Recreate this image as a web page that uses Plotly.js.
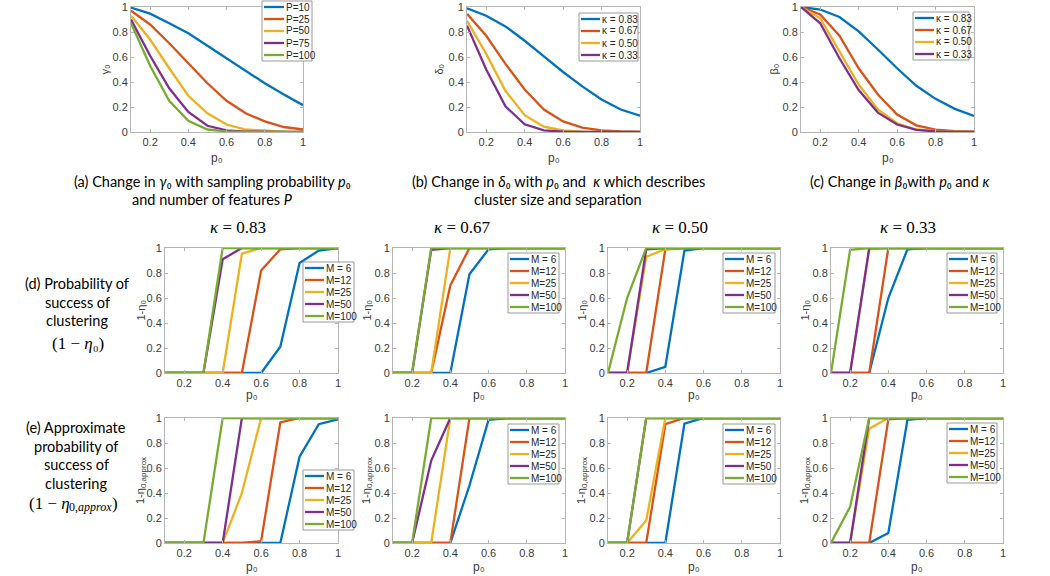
<!DOCTYPE html>
<html><head><meta charset="utf-8">
<script src="https://cdn.plot.ly/plotly-3.0.1.min.js"></script>
<style>html,body{margin:0;padding:0;background:#fff}#chart{width:1050px;height:576px}</style>
</head><body><div id="chart"></div>
<script>
const W = 1050, H = 576;
const p0 = [0.1, 0.2, 0.3, 0.4, 0.5, 0.6, 0.7, 0.8, 0.9, 1.0];
const colors = ['#0072BD', '#D95319', '#EDB120', '#7E2F8E', '#77AC30'];
const namesP = ['P=10', 'P=25', 'P=50', 'P=75', 'P=100'];
const namesK = ['\u03BA = 0.83', '\u03BA = 0.67', '\u03BA = 0.50', '\u03BA = 0.33'];
const namesM = ['M = 6', 'M=12', 'M=25', 'M=50', 'M=100'];
const kappaTitles = ['0.83', '0.67', '0.50', '0.33'];
const xTickVals = [0.2, 0.4, 0.6, 0.8, 1];
const xTickText = ['0.2', '0.4', '0.6', '0.8', '1'];
const yTickVals = [0, 0.2, 0.4, 0.6, 0.8, 1];
const yTickText = ['0', '0.2', '0.4', '0.6', '0.8', '1'];

// (a) gamma_0 vs p0 for P
const gamma_P10  = [0.995, 0.947, 0.87, 0.79, 0.69, 0.59, 0.49, 0.39, 0.30, 0.215];
const gamma_P25  = [0.97, 0.86, 0.71, 0.55, 0.39, 0.25, 0.15, 0.085, 0.04, 0.02];
const gamma_P50  = [0.93, 0.74, 0.51, 0.29, 0.15, 0.06, 0.02, 0.008, 0.002, 0.0];
const gamma_P75  = [0.90, 0.61, 0.35, 0.16, 0.05, 0.013, 0.003, 0.0, 0.0, 0.0];
const gamma_P100 = [0.87, 0.53, 0.25, 0.09, 0.02, 0.005, 0.0, 0.0, 0.0, 0.0];
// (b) delta_0 vs p0 for kappa
const delta_k83 = [0.99, 0.93, 0.845, 0.73, 0.605, 0.48, 0.365, 0.26, 0.18, 0.13];
const delta_k67 = [0.945, 0.77, 0.545, 0.34, 0.18, 0.085, 0.035, 0.013, 0.004, 0.001];
const delta_k50 = [0.89, 0.625, 0.33, 0.135, 0.043, 0.012, 0.003, 0.0, 0.0, 0.0];
const delta_k33 = [0.85, 0.50, 0.205, 0.062, 0.013, 0.003, 0.0, 0.0, 0.0, 0.0];
// (c) beta_0 vs p0 for kappa
const beta_k83 = [1.0, 0.98, 0.92, 0.805, 0.66, 0.51, 0.37, 0.265, 0.185, 0.128];
const beta_k67 = [1.0, 0.94, 0.77, 0.51, 0.30, 0.14, 0.053, 0.019, 0.006, 0.002];
const beta_k50 = [1.0, 0.91, 0.645, 0.38, 0.18, 0.07, 0.02, 0.006, 0.002, 0.0];
const beta_k33 = [1.0, 0.87, 0.59, 0.335, 0.155, 0.06, 0.017, 0.005, 0.001, 0.0];

// (d) 1 - eta_0, rows: M=6, 12, 25, 50, 100
const eta_k83 = [
  [0, 0, 0, 0, 0, 0, 0.21, 0.88, 0.98, 1],
  [0, 0, 0, 0, 0, 0.82, 0.99, 1, 1, 1],
  [0, 0, 0, 0, 0.955, 1, 1, 1, 1, 1],
  [0, 0, 0, 0.91, 1, 1, 1, 1, 1, 1],
  [0, 0, 0, 1, 1, 1, 1, 1, 1, 1]];
const eta_k67 = [
  [0, 0, 0, 0, 0.79, 0.99, 1, 1, 1, 1],
  [0, 0, 0, 0.70, 1, 1, 1, 1, 1, 1],
  [0, 0, 0, 1, 1, 1, 1, 1, 1, 1],
  [0, 0, 0.985, 1, 1, 1, 1, 1, 1, 1],
  [0, 0, 1, 1, 1, 1, 1, 1, 1, 1]];
const eta_k50 = [
  [0, 0, 0, 0.05, 0.98, 1, 1, 1, 1, 1],
  [0, 0, 0, 0.99, 1, 1, 1, 1, 1, 1],
  [0, 0, 0.93, 0.99, 1, 1, 1, 1, 1, 1],
  [0, 0, 0.99, 1, 1, 1, 1, 1, 1, 1],
  [0, 0.6, 1, 1, 1, 1, 1, 1, 1, 1]];
const eta_k33 = [
  [0, 0, 0, 0.60, 0.99, 1, 1, 1, 1, 1],
  [0, 0, 0, 1, 1, 1, 1, 1, 1, 1],
  [0, 0, 0.99, 1, 1, 1, 1, 1, 1, 1],
  [0, 0, 1, 1, 1, 1, 1, 1, 1, 1],
  [0, 0.985, 1, 1, 1, 1, 1, 1, 1, 1]];
// (e) 1 - eta_0,approx
const etaApx_k83 = [
  [0, 0, 0, 0, 0, 0, 0, 0.69, 0.95, 0.99],
  [0, 0, 0, 0, 0, 0.015, 0.965, 1, 1, 1],
  [0, 0, 0, 0, 0.40, 1, 1, 1, 1, 1],
  [0, 0, 0, 0, 1, 1, 1, 1, 1, 1],
  [0, 0, 0, 1, 1, 1, 1, 1, 1, 1]];
const etaApx_k67 = [
  [0, 0, 0, 0, 0.46, 0.985, 1, 1, 1, 1],
  [0, 0, 0, 0, 1, 1, 1, 1, 1, 1],
  [0, 0, 0, 1, 1, 1, 1, 1, 1, 1],
  [0, 0, 0.66, 1, 1, 1, 1, 1, 1, 1],
  [0, 0, 1, 1, 1, 1, 1, 1, 1, 1]];
const etaApx_k50 = [
  [0, 0, 0, 0, 0.955, 1, 1, 1, 1, 1],
  [0, 0, 0, 0.95, 1, 1, 1, 1, 1, 1],
  [0, 0, 0.18, 1, 1, 1, 1, 1, 1, 1],
  [0, 0, 1, 1, 1, 1, 1, 1, 1, 1],
  [0, 0, 1, 1, 1, 1, 1, 1, 1, 1]];
const etaApx_k33 = [
  [0, 0, 0, 0.08, 0.985, 1, 1, 1, 1, 1],
  [0, 0, 0, 0.99, 1, 1, 1, 1, 1, 1],
  [0, 0, 0.915, 1, 1, 1, 1, 1, 1, 1],
  [0, 0, 1, 1, 1, 1, 1, 1, 1, 1],
  [0, 0.29, 1, 1, 1, 1, 1, 1, 1, 1]];

// ---------- layout helpers (pixel -> paper) ----------
const fx = x => x / W;
const fy = y => 1 - y / H;
const FONT = 'Liberation Sans, Arial, sans-serif';
const CAP = 'Lato, Liberation Sans, sans-serif';
const SERIF = 'Liberation Serif, DejaVu Serif, serif';
const AX = '#b4b4b4';
const T_GAMMA = '\u03B3\u2080', T_DELTA = '\u03B4\u2080', T_BETA = '\u03B2\u2080';
const T_ETA = '1-\u03B7\u2080';
const T_ETAA_MAIN = '1-\u03B7', T_ETAA_SUB = '0,approx';

const ctx = document.createElement('canvas').getContext('2d');
function tw(text, font) { ctx.font = font; return ctx.measureText(text).width; }

const panels = [
  {x: [131, 303], y: [7, 132], series: [gamma_P10, gamma_P25, gamma_P50, gamma_P75, gamma_P100], names: namesP, ytitle: T_GAMMA, yt: 104, xt: 158, leg: [262, 1, 312, 61], legW: 20},
  {x: [467, 640], y: [7, 132], series: [delta_k83, delta_k67, delta_k50, delta_k33], names: namesK, ytitle: T_DELTA, yt: 438, xt: 158, leg: [579, 13, 638, 61], legW: 19},
  {x: [801, 974], y: [7, 132], series: [beta_k83, beta_k67, beta_k50, beta_k33], names: namesK, ytitle: T_BETA, yt: 773, xt: 158, leg: [913, 12, 969, 60], legW: 19},
  {x: [165, 338], y: [248, 373], series: eta_k83, names: namesM, ytitle: T_ETA, yt: 140, xt: 395, leg: [303, 262, 354, 322], legW: 19},
  {x: [393, 565], y: [248, 373], series: eta_k67, names: namesM, ytitle: T_ETA, yt: 366, xt: 395, leg: [508, 253, 559, 313], legW: 19},
  {x: [608, 780], y: [248, 373], series: eta_k50, names: namesM, ytitle: T_ETA, yt: 581, xt: 395, leg: [723, 253, 775, 313], legW: 19},
  {x: [831, 1003], y: [248, 373], series: eta_k33, names: namesM, ytitle: T_ETA, yt: 804, xt: 395, leg: [947, 253, 997, 313], legW: 19},
  {x: [165, 338], y: [418, 543], series: etaApx_k83, names: namesM, ytitle: null, yt: 140, xt: 567, leg: [303, 470, 354, 530], legW: 19},
  {x: [393, 565], y: [418, 543], series: etaApx_k67, names: namesM, ytitle: null, yt: 366, xt: 567, leg: [508, 424, 559, 484], legW: 19},
  {x: [608, 780], y: [418, 543], series: etaApx_k50, names: namesM, ytitle: null, yt: 581, xt: 567, leg: [723, 424, 775, 484], legW: 19},
  {x: [831, 1003], y: [418, 543], series: etaApx_k33, names: namesM, ytitle: null, yt: 804, xt: 567, leg: [947, 423, 997, 483], legW: 19}
];

const data = [];
const layout = {
  width: W, height: H, margin: {l: 0, r: 0, t: 0, b: 0},
  paper_bgcolor: '#fff', plot_bgcolor: '#fff', showlegend: false,
  font: {family: FONT, size: 11, color: '#262626'},
  shapes: [], annotations: []
};

function ann(o) {
  layout.annotations.push(Object.assign({xref: 'paper', yref: 'paper', showarrow: false,
    borderpad: 0, borderwidth: 0, xanchor: 'center', yanchor: 'middle'}, o));
}

panels.forEach((pn, i) => {
  const k = i + 1;
  const xa = 'xaxis' + (k === 1 ? '' : k), ya = 'yaxis' + (k === 1 ? '' : k);
  const xr = 'x' + (k === 1 ? '' : k), yr = 'y' + (k === 1 ? '' : k);
  pn.series.forEach((s, j) => {
    data.push({x: p0, y: s, type: 'scatter', mode: 'lines', name: pn.names[j],
      xaxis: xr, yaxis: yr, line: {color: colors[j], width: 2.3}, hoverinfo: 'skip'});
  });
  const common = {showline: true, mirror: 'ticks', linecolor: AX, linewidth: 1,
    ticks: 'inside', ticklen: 3, tickcolor: AX, showgrid: false, zeroline: false,
    tickfont: {family: FONT, size: 11, color: '#3a3a3a'}, fixedrange: true};
  layout[xa] = Object.assign({}, common, {domain: [fx(pn.x[0]), fx(pn.x[1])], range: [0.1, 1],
    tickvals: xTickVals, ticktext: xTickText, anchor: yr});
  layout[ya] = Object.assign({}, common, {domain: [fy(pn.y[1]), fy(pn.y[0])], range: [0, 1],
    tickvals: yTickVals, ticktext: yTickText, anchor: xr});
  // axis titles as annotations for exact placement
  ann({x: fx((pn.x[0] + pn.x[1]) / 2), y: fy(pn.xt), text: 'p\u2080',
    font: {family: FONT, size: 12, color: '#3a3a3a'}});
  const cy = (pn.y[0] + pn.y[1]) / 2;
  if (pn.ytitle) {
    ann({x: fx(pn.yt), y: fy(cy), text: pn.ytitle, textangle: -90,
      font: {family: FONT, size: 11, color: '#3a3a3a'}});
  } else {
    // rotated "1-η" with a smaller "0,approx" subscript
    const w1 = tw(T_ETAA_MAIN, '11px Liberation Sans'), w2 = tw(T_ETAA_SUB, '8px Liberation Sans');
    const tot = w1 + w2;
    ann({x: fx(pn.yt), y: fy(cy + tot / 2 - w1 / 2), text: T_ETAA_MAIN, textangle: -90,
      font: {family: FONT, size: 11, color: '#3a3a3a'}});
    ann({x: fx(pn.yt + 3.5), y: fy(cy - tot / 2 + w2 / 2), text: T_ETAA_SUB, textangle: -90,
      font: {family: FONT, size: 8, color: '#3a3a3a'}});
  }
  // legend box drawn from the series names/colours
  const [lx0, ly0, lx1, ly1] = pn.leg;
  layout.shapes.push({type: 'rect', xref: 'paper', yref: 'paper', x0: fx(lx0), x1: fx(lx1), y0: fy(ly1), y1: fy(ly0),
    line: {color: '#999', width: 1}, fillcolor: '#fff', layer: 'above'});
  const step = (ly1 - ly0 - 12) / (pn.names.length - 1 || 1);
  pn.names.forEach((nm, j) => {
    const yy = ly0 + 6 + step * j;
    layout.shapes.push({type: 'line', xref: 'paper', yref: 'paper', x0: fx(lx0 + 2), x1: fx(lx0 + 2 + pn.legW),
      y0: fy(yy), y1: fy(yy), line: {color: colors[j], width: 2.3}, layer: 'above'});
    ann({x: fx(lx0 + 4 + pn.legW), y: fy(yy), xanchor: 'left', text: nm,
      font: {family: FONT, size: 10, color: '#262626'}});
  });
});

function note(text, x, y, size, family, color) {
  ann({x: fx(x), y: fy(y), text: text, font: {family: family || CAP, size: size || 14.5, color: color || '#000'}});
}
// captions
note('(a) Change in <i>\u03B3</i>\u2080 with sampling probability <i>p</i>\u2080', 212, 181);
note('and number of features <i>P</i>', 212, 199);
note('(b) Change in <i>\u03B4</i>\u2080 with <i>p</i>\u2080 and  <i>\u03BA</i> which describes', 558, 181);
note('cluster size and separation', 558, 199);
note('(c) Change in <i>\u03B2</i>\u2080with <i>p</i>\u2080 and <i>\u03BA</i>', 899, 181);
// kappa column titles
const titleX = [238, 462, 680, 908];
kappaTitles.forEach((t, i) => note('<i>\u03BA</i> = ' + t, titleX[i], 227, 17, SERIF));
// row labels
note('(d) Probability of', 77, 283);
note('success of', 77, 302);
note('clustering', 77, 320);
note('(1 \u2212 <i>\u03B7</i>\u2080)', 78, 343, 17, SERIF);
note('(e) Approximate', 76, 427);
note('probability of', 76, 446);
note('success of', 76, 464);
note('clustering', 76, 483);
// "(1 − η" + subscript "0,approx" + ")"
(function () {
  const wA = tw('(1 \u2212 ', '17px Liberation Serif') + tw('\u03B7', 'italic 17px Liberation Serif');
  const wB = tw('0,', '12px Liberation Serif') + tw('approx', 'italic 12px Liberation Serif');
  const wC = tw(')', '17px Liberation Serif');
  const x0 = 73 - (wA + wB + wC) / 2, yc = 503;
  ann({x: fx(x0), y: fy(yc), xanchor: 'left', text: '(1 \u2212 <i>\u03B7</i>', font: {family: SERIF, size: 17, color: '#000'}});
  ann({x: fx(x0 + wA), y: fy(yc + 4), xanchor: 'left', text: '0,<i>approx</i>', font: {family: SERIF, size: 12, color: '#000'}});
  ann({x: fx(x0 + wA + wB), y: fy(yc), xanchor: 'left', text: ')', font: {family: SERIF, size: 17, color: '#000'}});
})();

Plotly.newPlot('chart', data, layout, {displayModeBar: false, staticPlot: true});
</script>
</body></html>
